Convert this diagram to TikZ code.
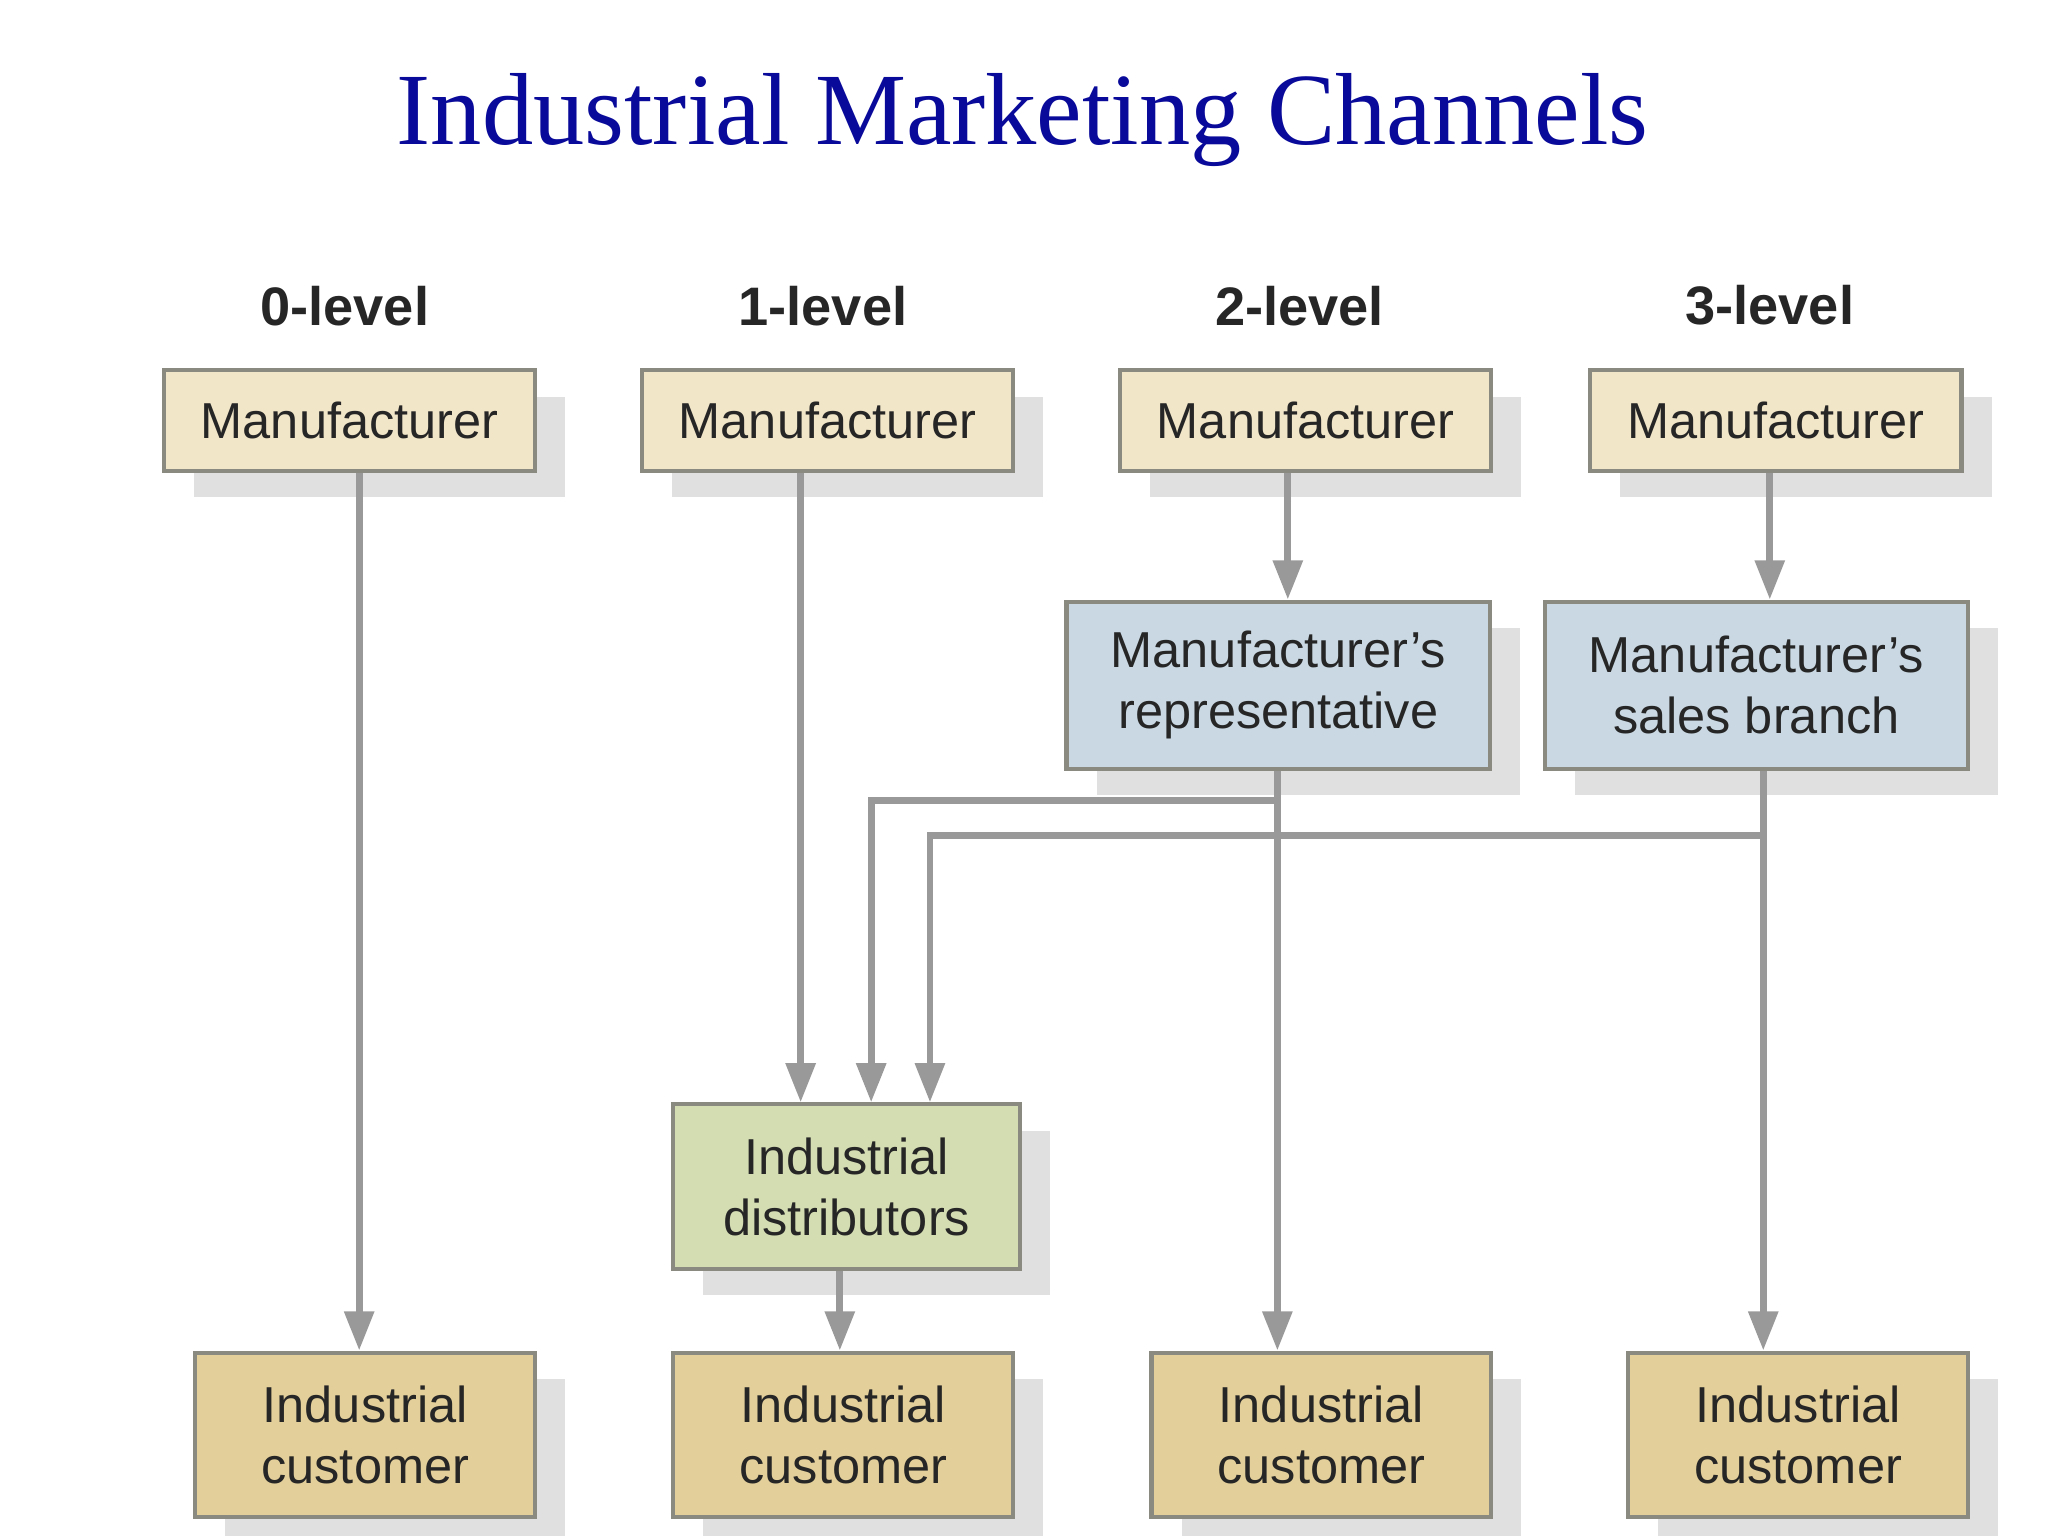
\documentclass[tikz,border=0pt]{standalone}
\usepackage{fontspec}
\setmainfont{Liberation Sans}
\newfontfamily\titlefont{Liberation Serif}
\usetikzlibrary{shadows,calc,arrows.meta}
\definecolor{mfill}{HTML}{F2E6C8}
\definecolor{bfill}{HTML}{C9D8E2}
\definecolor{gfill}{HTML}{D4DDB2}
\definecolor{cfill}{HTML}{E3CF9A}
\definecolor{edge}{HTML}{8A8A80}
\definecolor{ln}{HTML}{999999}
\definecolor{titleblue}{HTML}{0A0A9A}
\begin{document}
\begin{tikzpicture}[x=0.01cm,y=-0.01cm,
  box/.style={draw=edge,line width=0.9pt,anchor=north west,align=center,inner sep=0pt,
    font=\fontsize{11}{13.2}\selectfont,text=black!85,
    drop shadow={shadow xshift=0.23cm,shadow yshift=-0.2cm,fill=black!12,opacity=1}},
  lvl/.style={font=\bfseries\fontsize{11.8}{13}\selectfont,text=black!85},
  conn/.style={draw=ln,line width=1.5pt},
  arr/.style={conn,-{Triangle[length=0.3cm,width=0.22cm]}}]
\useasboundingbox (0,0) rectangle (1568,1176);
\node[font=\titlefont\fontsize{22.3}{26}\selectfont,text=titleblue] (title) at (783,92) {Industrial Marketing Channels};
\node[lvl] (l0) at (264,234) {0-level};
\node[lvl] (l1) at (630,234) {1-level};
\node[lvl] (l2) at (995,234) {2-level};
\node[lvl] (l3) at (1355,234) {3-level};
\foreach \n/\x in {m0/124,m1/490,m2/856,m3/1216}
  \node[box,fill=mfill,minimum width=2.84cm,minimum height=0.77cm] (\n) at (\x,282) {Manufacturer};
\node[box,fill=bfill,minimum width=3.24cm,minimum height=1.28cm] (rep) at (815,459) {Manufacturer\char39 s\\representative};
\node[box,fill=bfill,minimum width=3.24cm,minimum height=1.28cm] (br) at (1181,459) {Manufacturer\char39 s\\sales branch};
\node[box,fill=gfill,minimum width=2.65cm,minimum height=1.26cm] (d) at (514,844) {Industrial\\distributors};
\foreach \n/\x in {c0/148,c1/514,c2/880,c3/1245}
  \node[box,fill=cfill,minimum width=2.6cm,minimum height=1.26cm] (\n) at (\x,1034) {Industrial\\customer};
% connectors
\draw[arr] (m0.south -| 275,0) -- (c0.north -| 275,0);
\draw[arr] (m1.south -| 613,0) -- (d.north -| 613,0);
\draw[arr] (m2.south -| 986,0) -- (rep.north -| 986,0);
\draw[arr] (m3.south -| 1355,0) -- (br.north -| 1355,0);
\draw[arr] (rep.south -| 978,0) -- (c2.north -| 978,0);
\draw[arr] (br.south -| 1350,0) -- (c3.north -| 1350,0);
\draw[arr] (d.south -| 643,0) -- (c1.north -| 643,0);
\coordinate (j2) at (978,613);
\coordinate (j3) at (1350,640);
\draw[arr] (j2) -- (667,613) -- (d.north -| 667,0);
\draw[arr] (j3) -- (712,640) -- (d.north -| 712,0);
\end{tikzpicture}
\end{document}
